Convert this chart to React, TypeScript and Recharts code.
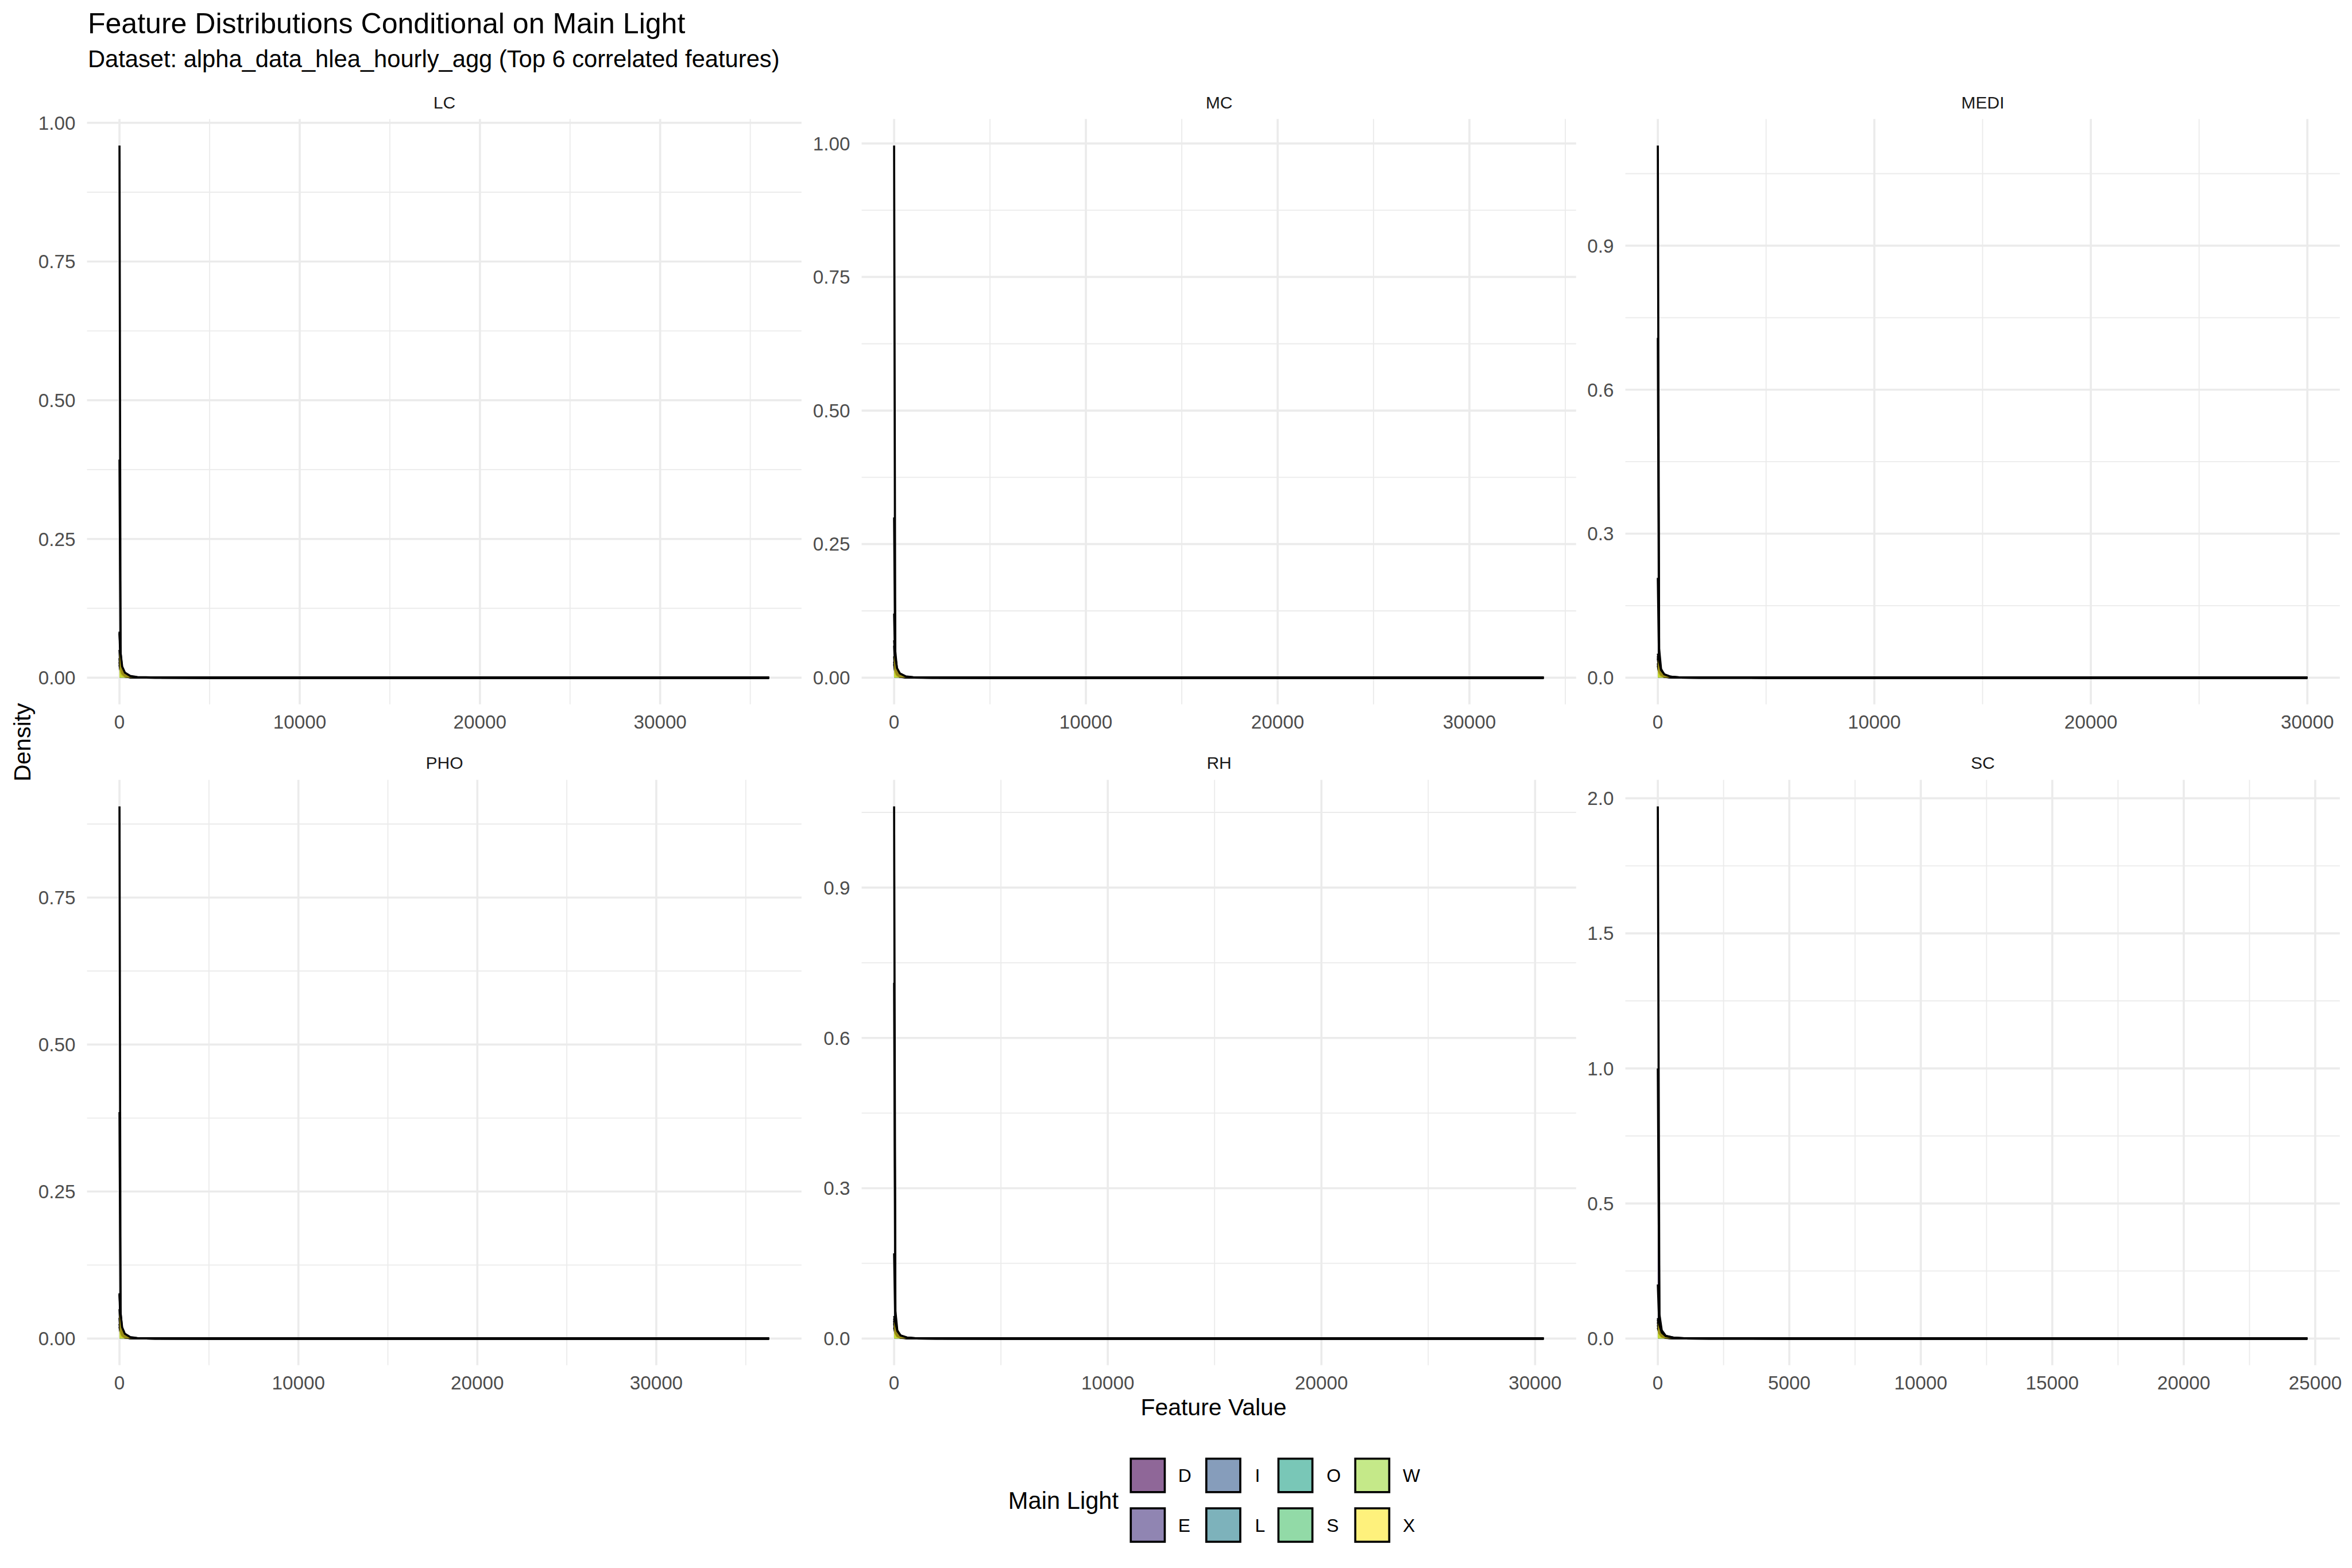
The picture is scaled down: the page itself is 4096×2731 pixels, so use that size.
import React from 'react';
import { ComposedChart, Area, XAxis, YAxis, CartesianGrid } from 'recharts';

// window is 4096 wide, reference is 4500 wide
const S = 4096 / 4500;
const FONT = '"Liberation Sans", Arial, Helvetica, sans-serif';

const GROUPS = ['D', 'E', 'I', 'L', 'O', 'S', 'W', 'X'];
const COLORS = ['#440154', '#46337E', '#365C8D', '#277F8E', '#1FA187', '#4AC16D', '#9FDA3A', '#FDE725'];

// feature value grid of each facet (last point = largest value seen)
const LC_X = [0, 60, 150, 300, 600, 1000, 2000, 5000, 36040];
const MC_X = [0, 60, 150, 300, 600, 1000, 2000, 5000, 33870];
const MEDI_X = [0, 60, 150, 300, 600, 1000, 2000, 5000, 30000];
const PHO_X = [0, 60, 150, 300, 600, 1000, 2000, 5000, 36300];
const RH_X = [0, 60, 150, 300, 600, 1000, 2000, 5000, 30400];
const SC_X = [0, 60, 150, 300, 600, 1000, 2000, 5000, 24700];

// density per group (rows in GROUPS order)
const LC_DENSITY = [
  [0.959, 0.045, 0.014, 0.005, 0.0015, 0.0005, 0.0002, 0, 0],
  [0.393, 0.03, 0.01, 0.004, 0.001, 0.0004, 0.0001, 0, 0],
  [0.023, 0.012, 0.006, 0.003, 0.001, 0.0003, 0.0001, 0, 0],
  [0.05, 0.015, 0.006, 0.002, 0.0008, 0.0003, 0.0001, 0, 0],
  [0.035, 0.01, 0.005, 0.002, 0.0006, 0.0002, 0, 0, 0],
  [0.028, 0.012, 0.005, 0.002, 0.0007, 0.0002, 0, 0, 0],
  [0.083, 0.02, 0.008, 0.003, 0.001, 0.0003, 0.0001, 0, 0],
  [0.08, 0.045, 0.02, 0.009, 0.003, 0.001, 0.0003, 0, 0],
];
const MC_DENSITY = [
  [0.996, 0.05, 0.015, 0.005, 0.0015, 0.0005, 0.0002, 0, 0],
  [0.3, 0.03, 0.01, 0.004, 0.001, 0.0004, 0.0001, 0, 0],
  [0.12, 0.02, 0.008, 0.003, 0.001, 0.0003, 0.0001, 0, 0],
  [0.04, 0.012, 0.005, 0.002, 0.0007, 0.0002, 0, 0, 0],
  [0.03, 0.01, 0.004, 0.002, 0.0006, 0.0002, 0, 0, 0],
  [0.025, 0.01, 0.004, 0.0015, 0.0005, 0.0002, 0, 0, 0],
  [0.06, 0.015, 0.006, 0.002, 0.0008, 0.0003, 0, 0, 0],
  [0.07, 0.04, 0.018, 0.008, 0.0025, 0.0008, 0.0002, 0, 0],
];
const MEDI_DENSITY = [
  [1.1086, 0.06, 0.018, 0.006, 0.002, 0.0006, 0.0002, 0, 0],
  [0.708, 0.04, 0.012, 0.004, 0.0012, 0.0004, 0.0001, 0, 0],
  [0.208, 0.025, 0.008, 0.003, 0.001, 0.0003, 0.0001, 0, 0],
  [0.045, 0.015, 0.006, 0.002, 0.0008, 0.0002, 0, 0, 0],
  [0.03, 0.01, 0.004, 0.002, 0.0006, 0.0002, 0, 0, 0],
  [0.025, 0.01, 0.004, 0.0015, 0.0005, 0.0002, 0, 0, 0],
  [0.04, 0.014, 0.006, 0.002, 0.0007, 0.0002, 0, 0, 0],
  [0.05, 0.035, 0.016, 0.007, 0.002, 0.0007, 0.0002, 0, 0],
];
const PHO_DENSITY = [
  [0.905, 0.045, 0.014, 0.005, 0.0015, 0.0005, 0.0002, 0, 0],
  [0.385, 0.03, 0.01, 0.004, 0.001, 0.0004, 0.0001, 0, 0],
  [0.077, 0.02, 0.008, 0.003, 0.001, 0.0003, 0.0001, 0, 0],
  [0.02, 0.01, 0.005, 0.002, 0.0007, 0.0002, 0, 0, 0],
  [0.035, 0.01, 0.004, 0.002, 0.0006, 0.0002, 0, 0, 0],
  [0.025, 0.01, 0.004, 0.0015, 0.0005, 0.0002, 0, 0, 0],
  [0.05, 0.015, 0.006, 0.002, 0.0008, 0.0003, 0, 0, 0],
  [0.075, 0.042, 0.019, 0.008, 0.0025, 0.0008, 0.0002, 0, 0],
];
const RH_DENSITY = [
  [1.062, 0.055, 0.016, 0.006, 0.0018, 0.0006, 0.0002, 0, 0],
  [0.71, 0.04, 0.012, 0.004, 0.0012, 0.0004, 0.0001, 0, 0],
  [0.17, 0.025, 0.008, 0.003, 0.001, 0.0003, 0.0001, 0, 0],
  [0.04, 0.014, 0.006, 0.002, 0.0007, 0.0002, 0, 0, 0],
  [0.03, 0.01, 0.004, 0.002, 0.0006, 0.0002, 0, 0, 0],
  [0.022, 0.01, 0.004, 0.0015, 0.0005, 0.0002, 0, 0, 0],
  [0.035, 0.012, 0.005, 0.002, 0.0007, 0.0002, 0, 0, 0],
  [0.045, 0.032, 0.015, 0.006, 0.002, 0.0006, 0.0002, 0, 0],
];
const SC_DENSITY = [
  [1.97, 0.09, 0.03, 0.01, 0.003, 0.001, 0.0003, 0, 0],
  [1.0, 0.06, 0.02, 0.007, 0.002, 0.0007, 0.0002, 0, 0],
  [0.2, 0.035, 0.012, 0.004, 0.0015, 0.0005, 0.0001, 0, 0],
  [0.07, 0.025, 0.01, 0.003, 0.001, 0.0003, 0, 0, 0],
  [0.05, 0.02, 0.008, 0.003, 0.001, 0.0003, 0, 0, 0],
  [0.04, 0.018, 0.007, 0.0025, 0.0008, 0.0002, 0, 0, 0],
  [0.06, 0.02, 0.008, 0.003, 0.001, 0.0003, 0, 0, 0],
  [0.076, 0.05, 0.022, 0.009, 0.003, 0.001, 0.0003, 0, 0],
];

// tick labels
const X_TICKS_10K = [0, 10000, 20000, 30000];
const X_TICKS_5K = [0, 5000, 10000, 15000, 20000, 25000];
const Y_TICKS_QUARTER = [0, 0.25, 0.5, 0.75, 1];
const Y_TICKS_PHO = [0, 0.25, 0.5, 0.75];
const Y_TICKS_TENTHS = [0, 0.3, 0.6, 0.9];
const Y_TICKS_HALF = [0, 0.5, 1, 1.5, 2];

type Panel = { name: string; xs: number[]; density: number[][]; xTicks: number[]; yTicks: number[]; digits: number };

const PANELS: Panel[] = [
  { name: 'LC', xs: LC_X, density: LC_DENSITY, xTicks: X_TICKS_10K, yTicks: Y_TICKS_QUARTER, digits: 2 },
  { name: 'MC', xs: MC_X, density: MC_DENSITY, xTicks: X_TICKS_10K, yTicks: Y_TICKS_QUARTER, digits: 2 },
  { name: 'MEDI', xs: MEDI_X, density: MEDI_DENSITY, xTicks: X_TICKS_10K, yTicks: Y_TICKS_TENTHS, digits: 1 },
  { name: 'PHO', xs: PHO_X, density: PHO_DENSITY, xTicks: X_TICKS_10K, yTicks: Y_TICKS_PHO, digits: 2 },
  { name: 'RH', xs: RH_X, density: RH_DENSITY, xTicks: X_TICKS_10K, yTicks: Y_TICKS_TENTHS, digits: 1 },
  { name: 'SC', xs: SC_X, density: SC_DENSITY, xTicks: X_TICKS_5K, yTicks: Y_TICKS_HALF, digits: 1 },
];

// layout in reference pixels
const COL_LEFT = [166.8, 1649, 3110.2];
const ROW_TOP = [228, 1492];
const PANEL_W = 1367;
const PANEL_H = 1120;
const Y_AXIS_W = 150;
const TOP_PAD = 20;
const RIGHT_PAD = 10;
const X_AXIS_H = 90;

const GRID = '#EBEBEB';

// ggplot-style 5% expansion
const expand = (lo: number, hi: number): [number, number] => {
  const r = hi - lo;
  return [lo - 0.05 * r, hi + 0.05 * r];
};

// minor breaks halfway between the major ones
const minorOf = (ticks: number[], dom: [number, number]) => {
  const step = ticks[1] - ticks[0];
  const out: number[] = [];
  for (let i = -1; i < ticks.length; i++) {
    const v = ticks[0] + step * (i + 0.5);
    if (v > dom[0] && v < dom[1]) out.push(Math.round(v * 1e6) / 1e6);
  }
  return out;
};

const FacetPanel = ({ panel, idx }: { panel: Panel; idx: number }) => {
  const col = idx % 3;
  const row = Math.floor(idx / 3);
  const rows = panel.xs.map((x, i) => {
    const r: { [k: string]: number } = { x };
    GROUPS.forEach((g, gi) => { r[g] = panel.density[gi][i]; });
    return r;
  });
  const xDom = expand(Math.min(...panel.xs), Math.max(...panel.xs));
  const yMax = Math.max(...panel.density.map(d => Math.max(...d)));
  const yDom = expand(0, yMax);
  const tickStyle = { fontSize: 36.5 * S, fill: '#4D4D4D', fontFamily: FONT };

  return (
    <div style={{
      position: 'absolute',
      left: (COL_LEFT[col] - Y_AXIS_W) * S,
      top: (ROW_TOP[row] - TOP_PAD) * S,
    }}>
      <ComposedChart
        width={(Y_AXIS_W + PANEL_W + RIGHT_PAD) * S}
        height={(TOP_PAD + PANEL_H + X_AXIS_H) * S}
        data={rows}
        margin={{ top: TOP_PAD * S, right: RIGHT_PAD * S, bottom: 0, left: 0 }}
      >
        <XAxis xAxisId="m" type="number" dataKey="x" domain={xDom} ticks={minorOf(panel.xTicks, xDom)} allowDataOverflow hide />
        <YAxis yAxisId="m" type="number" domain={yDom} ticks={minorOf(panel.yTicks, yDom)} allowDataOverflow hide />
        <CartesianGrid xAxisId="m" yAxisId="m" stroke={GRID} strokeWidth={2 * S} syncWithTicks />
        <CartesianGrid stroke={GRID} strokeWidth={4 * S} syncWithTicks />
        <XAxis
          type="number"
          dataKey="x"
          domain={xDom}
          ticks={panel.xTicks}
          interval={0}
          allowDataOverflow
          axisLine={false}
          tickLine={false}
          tickSize={0}
          tickMargin={21 * S}
          height={X_AXIS_H * S}
          tick={tickStyle}
          tickFormatter={(v: number) => String(v)}
        />
        <YAxis
          type="number"
          domain={yDom}
          ticks={panel.yTicks}
          interval={0}
          allowDataOverflow
          axisLine={false}
          tickLine={false}
          tickSize={0}
          tickMargin={22 * S}
          width={Y_AXIS_W * S}
          tick={tickStyle}
          tickFormatter={(v: number) => v.toFixed(panel.digits)}
        />
        {GROUPS.map((g, gi) => (
          <Area
            key={g}
            type="linear"
            dataKey={g}
            stroke="#000000"
            strokeWidth={4 * S}
            fill={COLORS[gi]}
            fillOpacity={0.6}
            dot={false}
            activeDot={false}
            isAnimationActive={false}
          />
        ))}
      </ComposedChart>
    </div>
  );
};

// legend layout (reference pixels)
const KEY_X = [2161.5, 2306, 2444, 2591];
const KEY_Y = [2789, 2884];
const LABEL_X = [2254, 2401, 2538, 2684];

const Overlay = () => (
  <svg
    width={4096}
    height={2731}
    viewBox="0 0 4500 3000"
    style={{ position: 'absolute', left: 0, top: 0, fontFamily: FONT }}
  >
    <text x={168} y={63} fontSize={55} fill="#000">Feature Distributions Conditional on Main Light</text>
    <text x={168} y={128} fontSize={45.8} fill="#000">Dataset: alpha_data_hlea_hourly_agg (Top 6 correlated features)</text>
    {PANELS.map((p, i) => (
      <text
        key={p.name}
        x={COL_LEFT[i % 3] + PANEL_W / 2}
        y={ROW_TOP[Math.floor(i / 3)] - 21}
        fontSize={33}
        fill="#1A1A1A"
        textAnchor="middle"
      >
        {p.name}
      </text>
    ))}
    <text x={(COL_LEFT[0] + COL_LEFT[2] + PANEL_W) / 2} y={2708} fontSize={45} textAnchor="middle" fill="#000">Feature Value</text>
    <text x={58} y={1420} fontSize={45} textAnchor="middle" fill="#000" transform="rotate(-90 58 1420)">Density</text>
    <text x={1929} y={2887} fontSize={45.8} fill="#000">Main Light</text>
    {GROUPS.map((g, i) => {
      const c = Math.floor(i / 2);
      const r = i % 2;
      return (
        <g key={g}>
          <rect x={KEY_X[c] + 2} y={KEY_Y[r] + 2} width={65} height={64} fill={COLORS[i]} fillOpacity={0.6} stroke="#000" strokeWidth={4} />
          <text x={LABEL_X[c]} y={KEY_Y[r] + 34 + 12.5} fontSize={35} fill="#000">{g}</text>
        </g>
      );
    })}
  </svg>
);

export default function App() {
  return (
    <div style={{ position: 'absolute', left: 0, top: 0, width: 4096, height: 2731, background: '#fff', fontFamily: FONT }}>
      <Overlay />
      {PANELS.map((p, i) => <FacetPanel key={p.name} panel={p} idx={i} />)}
    </div>
  );
}
